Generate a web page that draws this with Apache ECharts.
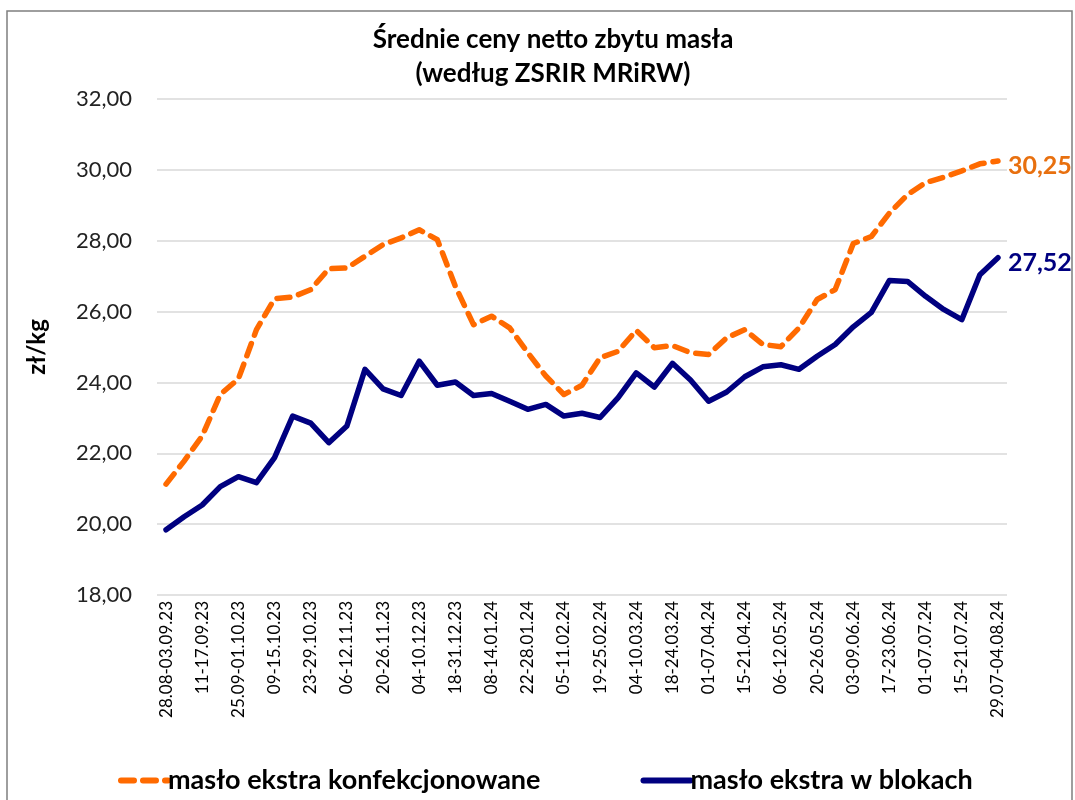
<!DOCTYPE html>
<html>
<head>
<meta charset="utf-8">
<style>
  html, body { margin: 0; padding: 0; background: #fff; }
  #chart { width: 1075px; height: 800px; }
</style>
<script src="https://cdn.jsdelivr.net/npm/echarts@6/dist/echarts.min.js"></script>
</head>
<body>
<div id="chart"></div>
<script>
// tygodnie notowań
const weeks = [
  '28.08-03.09.23', '04-10.09.23', '11-17.09.23', '18-24.09.23', '25.09-01.10.23',
  '02-08.10.23', '09-15.10.23', '16-22.10.23', '23-29.10.23', '30.10-05.11.23',
  '06-12.11.23', '13-19.11.23', '20-26.11.23', '27.11-03.12.23', '04-10.12.23',
  '11-17.12.23', '18-31.12.23', '01-07.01.24', '08-14.01.24', '15-21.01.24',
  '22-28.01.24', '29.01-04.02.24', '05-11.02.24', '12-18.02.24', '19-25.02.24',
  '26.02-03.03.24', '04-10.03.24', '11-17.03.24', '18-24.03.24', '25-31.03.24',
  '01-07.04.24', '08-14.04.24', '15-21.04.24', '22.04-05.05.24', '06-12.05.24',
  '13-19.05.24', '20-26.05.24', '27.05-02.06.24', '03-09.06.24', '10-16.06.24',
  '17-23.06.24', '24-30.06.24', '01-07.07.24', '08-14.07.24', '15-21.07.24',
  '22-28.07.24', '29.07-04.08.24'
]

// masło ekstra konfekcjonowane (zł/kg)
const konfekcjonowane = [
  21.13, 21.78, 22.49, 23.66, 24.10, 25.49, 26.36, 26.41, 26.62, 27.21,
  27.23, 27.56, 27.89, 28.08, 28.31, 28.03, 26.71, 25.63, 25.87, 25.54,
  24.84, 24.18, 23.66, 23.92, 24.70, 24.88, 25.47, 24.98, 25.04, 24.84,
  24.79, 25.26, 25.49, 25.07, 25.01, 25.54, 26.34, 26.62, 27.92, 28.12,
  28.78, 29.30, 29.64, 29.79, 29.97, 30.17, 30.25
]

// masło ekstra w blokach (zł/kg)
const wBlokach = [
  19.84, 20.21, 20.54, 21.06, 21.34, 21.17, 21.88, 23.05, 22.85, 22.30,
  22.77, 24.37, 23.82, 23.63, 24.60, 23.92, 24.01, 23.63, 23.69, 23.47,
  23.24, 23.38, 23.05, 23.13, 23.01, 23.57, 24.27, 23.87, 24.54, 24.07,
  23.47, 23.73, 24.16, 24.44, 24.50, 24.37, 24.74, 25.07, 25.57, 25.98,
  26.88, 26.85, 26.43, 26.06, 25.77, 27.04, 27.52
]

const fmt = v => Number(v).toFixed(2).replace('.', ',')
const font = 'Lato, "Open Sans", sans-serif'

const chart = echarts.init(document.getElementById('chart'))
chart.setOption({
  backgroundColor: '#fff',
  animation: false,
  textStyle: { fontFamily: font },
  title: {
    text: 'Średnie ceny netto zbytu masła\n(według ZSRIR MRiRW)',
    left: 548,
    top: 18,
    textAlign: 'center',
    textStyle: { fontSize: 26, fontWeight: 'bold', color: '#000', lineHeight: 34, fontFamily: font }
  },
  graphic: [{
    type: 'rect',
    shape: { x: 7, y: 11, width: 1065, height: 810 },
    style: { fill: 'none', stroke: '#7f7f7f', lineWidth: 1.5 },
    silent: true
  }],
  legend: {
    left: 113,
    top: 762,
    itemWidth: 47,
    itemHeight: 8,
    itemGap: 100,
    itemStyle: { opacity: 0 },
    lineStyle: { width: 6, cap: 'round' },
    textStyle: { fontSize: 27, fontWeight: 'bold', color: '#000', fontFamily: font, padding: [0, 0, 0, -5] },
    data: ['masło ekstra konfekcjonowane', 'masło ekstra w blokach']
  },
  grid: { left: 157, right: 68, top: 99, bottom: 205 },
  xAxis: {
    type: 'category',
    data: weeks,
    boundaryGap: true,
    axisLine: { show: false },
    axisTick: { show: false },
    axisLabel: { rotate: 90, interval: 1, fontSize: 17, color: '#000', margin: 6, fontFamily: font }
  },
  yAxis: {
    type: 'value',
    min: 18,
    max: 32,
    interval: 2,
    name: 'zł/kg',
    nameLocation: 'middle',
    nameGap: 108,
    nameTextStyle: { fontSize: 24, fontWeight: 'bold', color: '#000', fontFamily: font },
    axisLine: { show: false },
    axisTick: { show: false },
    axisLabel: { fontSize: 22, color: '#222', margin: 25, formatter: fmt, fontFamily: font },
    splitLine: { lineStyle: { color: '#d9d9d9', width: 1.5 } }
  },
  series: [{
    name: 'masło ekstra konfekcjonowane',
    type: 'line',
    data: konfekcjonowane,
    symbol: 'none',
    color: '#ff6a00',
    lineStyle: { width: 5.5, type: [13, 9], cap: 'round', join: 'round' },
    endLabel: {
      show: true,
      distance: 10,
      formatter: p => fmt(p.value),
      fontSize: 25,
      fontWeight: 'bold',
      color: '#e8700f',
      fontFamily: font,
      offset: [0, 5]
    }
  }, {
    name: 'masło ekstra w blokach',
    type: 'line',
    data: wBlokach,
    symbol: 'none',
    color: '#000080',
    lineStyle: { width: 5.5, cap: 'round', join: 'round' },
    endLabel: {
      show: true,
      distance: 10,
      formatter: p => fmt(p.value),
      fontSize: 25,
      fontWeight: 'bold',
      color: '#000080',
      fontFamily: font,
      offset: [0, 5]
    }
  }]
})
window.addEventListener('resize', function () {
  chart.resize()
})
</script>
</body>
</html>
